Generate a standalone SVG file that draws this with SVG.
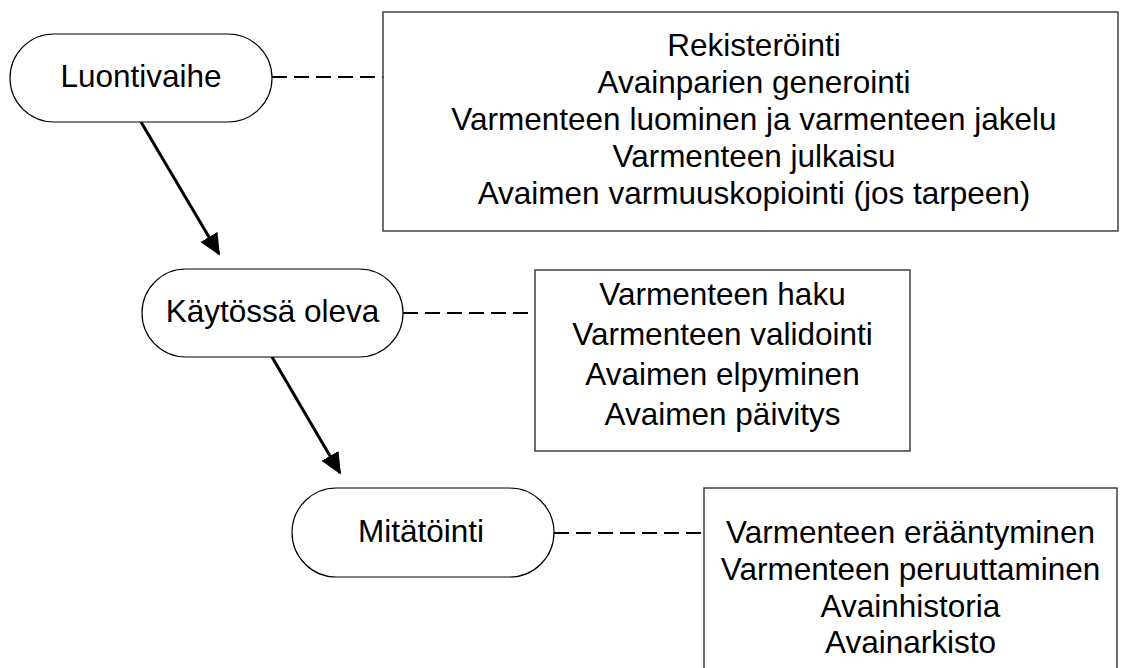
<svg xmlns="http://www.w3.org/2000/svg" width="1125" height="668" viewBox="0 0 1125 668">
  <style>
    .pill { fill: #ffffff; stroke: #000000; stroke-width: 1.2; }
    .box { fill: #ffffff; stroke: #333333; stroke-width: 1.4; }
    .txt { font-family: "Liberation Sans", Arial, sans-serif; font-size: 31.5px; fill: #000000; text-anchor: middle; }
    .dash { stroke: #000000; stroke-width: 2; stroke-dasharray: 15 7; fill: none; }
    .flow { stroke: #000000; stroke-width: 3; fill: none; marker-end: url(#head); }
  </style>
  <defs>
    <marker id="head" markerWidth="7.2" markerHeight="6.6" refX="6.6" refY="3.3" orient="auto" markerUnits="strokeWidth">
      <path d="M0,0 L7.2,3.3 L0,6.6 Z" fill="#000000"/>
    </marker>
  </defs>
  <rect width="1125" height="668" fill="#ffffff"/>

  <!-- connectors -->
  <g id="connectors">
    <line class="dash" x1="272" y1="77" x2="383" y2="77"/>
    <line class="dash" x1="403" y1="313" x2="535" y2="313"/>
    <line class="dash" x1="554" y1="533" x2="704" y2="533"/>
    <line class="flow" x1="141" y1="122" x2="219" y2="254"/>
    <line class="flow" x1="272" y1="357" x2="340" y2="473"/>
  </g>

  <!-- phase: creation -->
  <g id="phase-luontivaihe">
    <rect class="pill" x="10" y="34" width="262" height="88" rx="44" ry="44"/>
    <text class="txt" x="141" y="87">Luontivaihe</text>
  </g>
  <g id="tasks-luontivaihe">
    <rect class="box" x="383" y="12" width="735" height="219"/>
    <text class="txt" x="754" y="56">Rekisteröinti</text>
    <text class="txt" x="754" y="93">Avainparien generointi</text>
    <text class="txt" x="754" y="130">Varmenteen luominen ja varmenteen jakelu</text>
    <text class="txt" x="754" y="167">Varmenteen julkaisu</text>
    <text class="txt" x="754" y="204">Avaimen varmuuskopiointi (jos tarpeen)</text>
  </g>

  <!-- phase: in use -->
  <g id="phase-kaytossa">
    <rect class="pill" x="142" y="269" width="261" height="88" rx="44" ry="44"/>
    <text class="txt" x="272.5" y="322">Käytössä oleva</text>
  </g>
  <g id="tasks-kaytossa">
    <rect class="box" x="535" y="270" width="375" height="181"/>
    <text class="txt" x="722.5" y="305">Varmenteen haku</text>
    <text class="txt" x="722.5" y="345">Varmenteen validointi</text>
    <text class="txt" x="722.5" y="385">Avaimen elpyminen</text>
    <text class="txt" x="722.5" y="425">Avaimen päivitys</text>
  </g>

  <!-- phase: revocation -->
  <g id="phase-mitatointi">
    <rect class="pill" x="292" y="488" width="262" height="89" rx="44.5" ry="44.5"/>
    <text class="txt" x="421" y="542">Mitätöinti</text>
  </g>
  <g id="tasks-mitatointi">
    <rect class="box" x="704" y="488" width="413" height="200"/>
    <text class="txt" x="910.5" y="543">Varmenteen erääntyminen</text>
    <text class="txt" x="910.5" y="580">Varmenteen peruuttaminen</text>
    <text class="txt" x="910.5" y="617">Avainhistoria</text>
    <text class="txt" x="910.5" y="653">Avainarkisto</text>
  </g>
</svg>
